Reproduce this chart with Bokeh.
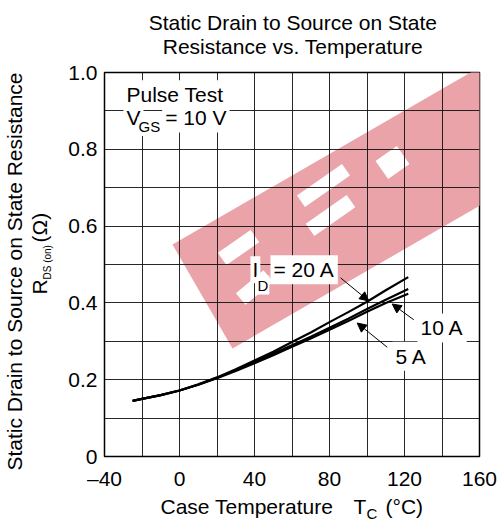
import math
from bokeh.plotting import figure
from bokeh.layouts import column, row
from bokeh.models import Label, Arrow, NormalHead, FixedTicker, Range1d
from bokeh.embed import file_html
from bokeh.resources import INLINE

# ---------------- data ----------------
temp_c = [-25, -20, -10, 0, 10, 20, 30, 40, 50, 60, 70, 80, 90, 100, 110, 122]
rds_20a = [0.145, 0.150, 0.160, 0.172, 0.188, 0.206, 0.227, 0.250, 0.273, 0.298,
           0.323, 0.350, 0.376, 0.403, 0.433, 0.467]
rds_10a = [0.145, 0.150, 0.160, 0.172, 0.187, 0.205, 0.225, 0.246, 0.268, 0.290,
           0.312, 0.335, 0.359, 0.384, 0.408, 0.436]
rds_5a = [0.145, 0.150, 0.160, 0.172, 0.187, 0.204, 0.223, 0.243, 0.264, 0.286,
          0.307, 0.330, 0.353, 0.377, 0.400, 0.424]
x_ticks = [-40, 0, 40, 80, 120, 160]
x_tick_labels = ["\u201340", "0", "40", "80", "120", "160"]
y_ticks = [0, 0.2, 0.4, 0.6, 0.8, 1.0]
y_tick_labels = ["0", "0.2", "0.4", "0.6", "0.8", "1.0"]
x_grid = list(range(-40, 161, 20))
y_grid = [i / 10 for i in range(0, 11)]

FONT = "Liberation Sans"
X0, X1, Y0, Y1 = -40, 160, 0, 1.0
FRAME_W, FRAME_H = 375, 384
PAGE_W, PAGE_H = 501, 522
TOP_H = 58
LEFT_W = 60
MAIN_H = 438
BOT_H = PAGE_H - TOP_H - MAIN_H
RIGHT_W = PAGE_W - LEFT_W
FRAME_L, FRAME_T = 104, 72
BASE_FIX = 0.36   # measured shift of Bokeh's alphabetic baseline, in em
TOP_XFIX = -10    # measured horizontal drift of the title strip's texts, px

def px2x(px):
    return X0 + (px - FRAME_L) * (X1 - X0) / FRAME_W

def py2y(py):
    return Y0 + (FRAME_T + FRAME_H - py) * (Y1 - Y0) / FRAME_H

# ---------------- main plot ----------------
p = figure(frame_width=FRAME_W, frame_height=FRAME_H,
           x_range=Range1d(X0, X1), y_range=Range1d(Y0, Y1),
           output_backend="svg", toolbar_location=None,
           min_border_left=FRAME_L - LEFT_W, min_border_top=FRAME_T - TOP_H,
           min_border_right=PAGE_W - FRAME_L - FRAME_W,
           min_border_bottom=MAIN_H - (FRAME_T - TOP_H) - FRAME_H,
           background_fill_color="white", border_fill_color="white")

p.outline_line_color = "black"
p.outline_line_width = 1.5

p.xgrid.ticker = FixedTicker(ticks=x_grid)
p.ygrid.ticker = FixedTicker(ticks=y_grid)
for g in (p.xgrid, p.ygrid):
    g.grid_line_color = "#111111"
    g.grid_line_width = 1
    g.grid_line_alpha = 0.9

p.xaxis.ticker = FixedTicker(ticks=x_ticks)
p.yaxis.ticker = FixedTicker(ticks=y_ticks)
p.xaxis.major_label_overrides = {t: l for t, l in zip(x_ticks, x_tick_labels)}
p.yaxis.major_label_overrides = {t: l for t, l in zip(y_ticks, y_tick_labels)}
for ax in (p.xaxis, p.yaxis):
    ax.axis_line_color = None
    ax.major_tick_line_color = None
    ax.minor_tick_line_color = None
    ax.major_tick_out = 0
    ax.major_tick_in = 0
    ax.major_label_text_font = FONT
    ax.major_label_text_font_size = "21px"
    ax.major_label_text_color = "black"
p.xaxis.major_label_standoff = 10
p.yaxis.major_label_standoff = 7

# ---------------- watermark (pink band behind the grid) ----------------
WM_O = (232.0, 348.0)
WM_A = math.radians(30)
WM_PINK = "#E9A3A9"

def wm_pt(u, v):
    px = WM_O[0] + u * math.cos(WM_A) - v * math.sin(WM_A)
    py = WM_O[1] - u * math.sin(WM_A) - v * math.cos(WM_A)
    return px2x(px), py2y(py)

band = [wm_pt(0, 0), wm_pt(430, 0), wm_pt(430, 120), wm_pt(0, 120)]
p.patch([b[0] for b in band], [b[1] for b in band], fill_color=WM_PINK,
        line_color=None, level="image")

def rect_at(cx, cy, L, T, a_deg):
    a = math.radians(a_deg)
    ux, uy = math.cos(a), -math.sin(a)
    vx, vy = math.sin(a), math.cos(a)
    xs, ys = [], []
    for su, sv in ((-1, -1), (1, -1), (1, 1), (-1, 1)):
        xs.append(px2x(cx + su * L / 2 * ux + sv * T / 2 * vx))
        ys.append(py2y(cy + su * L / 2 * uy + sv * T / 2 * vy))
    return xs, ys

holes = [(238, 247, 40, 15, 35), (254, 287, 36, 15, 40),
         (323, 185, 55, 14, 35), (330, 215, 50, 15, 35),
         (392, 162, 26, 22, 35)]
hx, hy = zip(*[rect_at(*h) for h in holes])
p.patches(list(hx), list(hy), fill_color="white", line_color=None, level="image")

# ---------------- curves ----------------
for series in (rds_20a, rds_10a, rds_5a):
    p.line(temp_c, series, line_color="black", line_width=2.2)

# ---------------- labels ----------------
def lab(fig, px, py, text, size=21, align="left", rotated=False, bg=False, pad=3,
        cx=None, cy=None):
    shift = BASE_FIX * size
    if rotated:
        px -= shift
    else:
        py -= shift
    kw = dict(x=cx(px), y=cy(py), text=text, text_font=FONT,
              text_font_size=f"{size}px", text_color="black",
              text_align=align, text_baseline="alphabetic",
              angle=math.pi / 2 if rotated else 0.0)
    if bg:
        kw.update(background_fill_color="white", padding=pad)
    fig.add_layout(Label(**kw))

def plab(px, py, text, **kw):
    lab(p, px, py, text, cx=px2x, cy=py2y, **kw)

plab(123, 101.7, "Pulse Test", bg=True)
plab(123, 125, "V", bg=True)
plab(137, 131.5, "GS", size=15, bg=True, pad=1)
plab(161.7, 125, "= 10 V", bg=True)

plab(250, 276.7, "I", bg=True, pad=2)
plab(256, 290, "D", size=15, bg=True, pad=1)
plab(270, 276.7, "= 20 A", bg=True)
plab(417, 335, "10 A", bg=True)
plab(392, 363.3, "5 A", bg=True)

def arrow(x0, y0, x1, y1):
    p.add_layout(Arrow(end=NormalHead(size=9, fill_color="black", line_color="black", line_width=1),
                       x_start=px2x(x0), y_start=py2y(y0), x_end=px2x(x1), y_end=py2y(y1),
                       line_color="black", line_width=1))

arrow(340, 277.3, 368.3, 300.5)
arrow(413.3, 319.3, 391.7, 303.5)
arrow(386.7, 346.7, 356.7, 322.5)

# ---------------- text strips (local pixel coordinates) ----------------
def text_fig(x0, y0, w, h):
    f = figure(width=w, height=h, x_range=Range1d(0, w), y_range=Range1d(h, 0),
               x_axis_type=None, y_axis_type=None, output_backend="svg",
               toolbar_location=None, min_border=0,
               background_fill_color="white", border_fill_color="white")
    f.outline_line_color = None
    f.grid.visible = False
    to_x = lambda v: v - x0
    to_y = lambda v: v - y0
    return f, to_x, to_y

top, tx, ty = text_fig(LEFT_W, 0, RIGHT_W, TOP_H)
lab(top, 291.5 + TOP_XFIX, 30, "Static Drain to Source on State", align="center", cx=tx, cy=ty)
lab(top, 291.5 + TOP_XFIX, 53.5, "Resistance vs. Temperature", align="center", cx=tx, cy=ty)

left, lx, ly = text_fig(0, 0, LEFT_W, TOP_H + MAIN_H)
lab(left, 22, 470, "Static Drain to Source on State Resistance", rotated=True, cx=lx, cy=ly)
lab(left, 47, 294, "R", rotated=True, cx=lx, cy=ly)
lab(left, 50.5, 279, "DS (on)", size=10, rotated=True, cx=lx, cy=ly)
lab(left, 47, 242, "(\u03a9)", rotated=True, cx=lx, cy=ly)

bottom, bx, by = text_fig(0, TOP_H + MAIN_H, PAGE_W, BOT_H)
lab(bottom, 160, 514, "Case Temperature", cx=bx, cy=by)
lab(bottom, 353, 514, "T", cx=bx, cy=by)
lab(bottom, 366, 518, "C", size=15, cx=bx, cy=by)
lab(bottom, 385, 514, "(\u00b0C)", cx=bx, cy=by)

layout = column(row(left, column(top, p)), bottom)

open("out.html", "w").write(file_html(layout, INLINE))
